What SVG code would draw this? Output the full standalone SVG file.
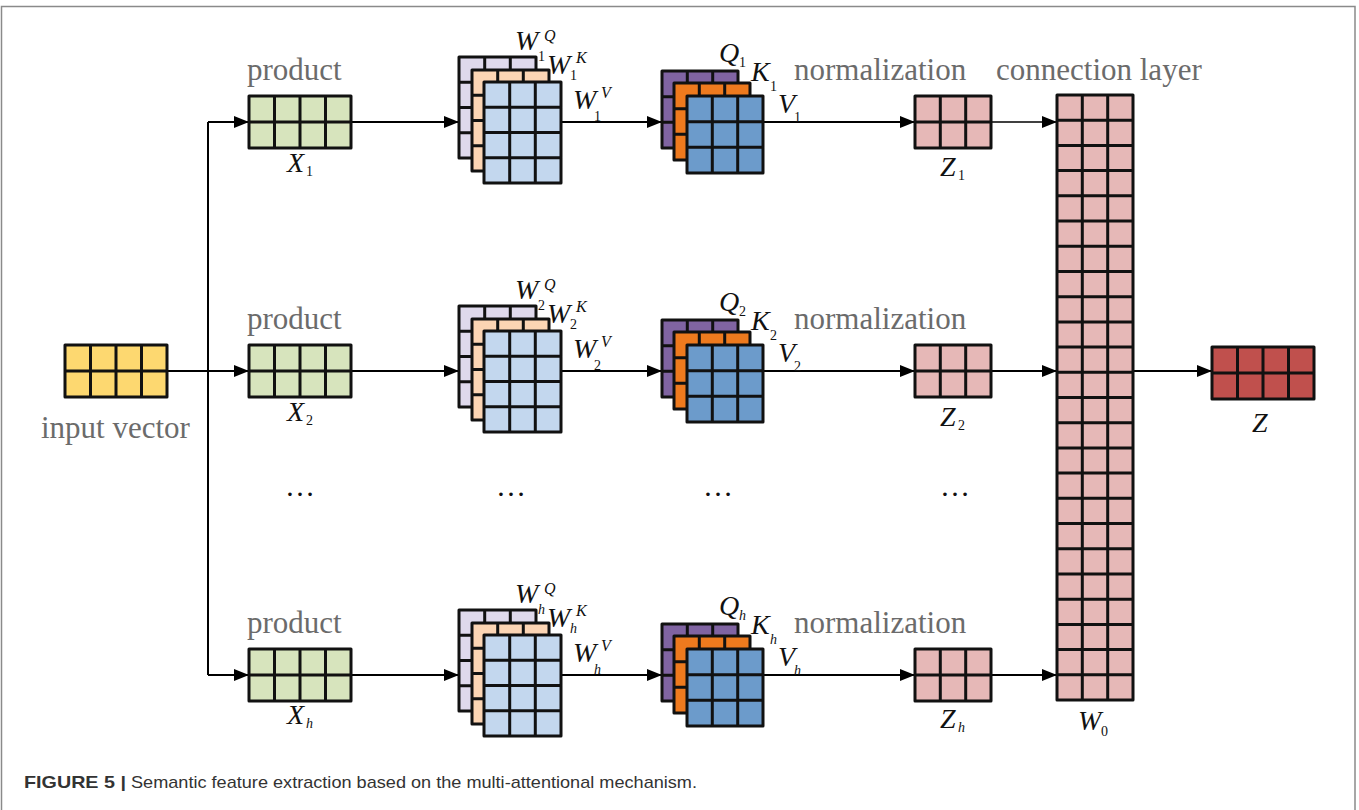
<svg xmlns="http://www.w3.org/2000/svg" xmlns:xlink="http://www.w3.org/1999/xlink" width="1359" height="810" viewBox="0 0 1359 810">
<style>
.gl{fill:none;stroke:#111;stroke-width:3;stroke-linejoin:round;stroke-linecap:round}
.lbl{font-family:"Liberation Serif","Times New Roman",serif;font-size:31px;fill:#6b6b6b}
.m{font-family:"Liberation Serif","Times New Roman",serif;font-style:italic;font-size:28px;fill:#111}
.s{font-family:"Liberation Serif","Times New Roman",serif;font-size:14px;fill:#111}
.si{font-family:"Liberation Serif","Times New Roman",serif;font-style:italic;font-size:14px;fill:#111}
.sup{font-family:"Liberation Serif","Times New Roman",serif;font-style:italic;font-size:16px;fill:#111}
.dots{font-family:"Liberation Serif","Times New Roman",serif;font-size:30px;fill:#111}
.con{fill:none;stroke:#000;stroke-width:2}
.cap{font-family:"Liberation Sans",Arial,sans-serif;font-size:17px;fill:#333}
</style>
<defs>
<marker id="arr" markerWidth="15" markerHeight="12" refX="15" refY="6" orient="auto" markerUnits="userSpaceOnUse"><path d="M0,0 L15,6 L0,12 z" fill="#000"/></marker>
<g id="g4x2"><rect x="0" y="0" width="102" height="52"/><path class="gl" d="M0,0H102V52H0Z M25.5,0V52 M51,0V52 M76.5,0V52 M0,26H102"/></g>
<g id="g3x2"><rect x="0" y="0" width="76" height="52"/><path class="gl" d="M0,0H76V52H0Z M25.3,0V52 M50.7,0V52 M0,26H76"/></g>
<g id="g3x4"><rect x="0" y="0" width="77" height="101"/><path class="gl" d="M0,0H77V101H0Z M25.7,0V101 M51.3,0V101 M0,25.25H77 M0,50.5H77 M0,75.75H77"/></g>
<g id="g3x3"><rect x="0" y="0" width="76" height="77"/><path class="gl" d="M0,0H76V77H0Z M25.3,0V77 M50.7,0V77 M0,25.7H76 M0,51.3H76"/></g>
<g id="wstack"><use xlink:href="#g3x4" x="0" y="0" fill="#DFD9EC"/><use xlink:href="#g3x4" x="13" y="13" fill="#FCD5B4"/><use xlink:href="#g3x4" x="25" y="25" fill="#C3D7EE"/></g>
<g id="qkv"><use xlink:href="#g3x3" x="0" y="0" fill="#8064A2"/><use xlink:href="#g3x3" x="12" y="12" fill="#EE7A1E"/><use xlink:href="#g3x3" x="25" y="25" fill="#6C9BCB"/></g>
</defs>
<rect width="1359" height="810" fill="#fff"/>
<path d="M1.5,810V6.5H1355V810" fill="none" stroke="#8a8a8a" stroke-width="1.5"/>

<g id="connectors">
<path class="con" d="M167,371H208 M208,122V675"/>
<path class="con" marker-end="url(#arr)" d="M208,122H249"/>
<path class="con" marker-end="url(#arr)" d="M208,371H249"/>
<path class="con" marker-end="url(#arr)" d="M208,675H249"/>
<path class="con" marker-end="url(#arr)" d="M351,122H459"/>
<path class="con" marker-end="url(#arr)" d="M351,371H459"/>
<path class="con" marker-end="url(#arr)" d="M351,675H459"/>
<path class="con" marker-end="url(#arr)" d="M561,122H662"/>
<path class="con" marker-end="url(#arr)" d="M561,371H662"/>
<path class="con" marker-end="url(#arr)" d="M561,675H662"/>
<path class="con" marker-end="url(#arr)" d="M763,122H915"/>
<path class="con" marker-end="url(#arr)" d="M763,371H915"/>
<path class="con" marker-end="url(#arr)" d="M763,675H915"/>
<path class="con" style="stroke-width:1.5" marker-end="url(#arr)" d="M991,122H1057"/>
<path class="con" marker-end="url(#arr)" d="M991,371H1057"/>
<path class="con" marker-end="url(#arr)" d="M991,675H1057"/>
<path class="con" marker-end="url(#arr)" d="M1133,371H1212"/>
</g>

<g id="input">
<use xlink:href="#g4x2" x="65" y="345" fill="#FDD870"/>
<text class="lbl" x="41" y="438">input vector</text>
</g>

<g id="product1">
<text class="lbl" x="247" y="80">product</text>
<use xlink:href="#g4x2" x="249" y="96" fill="#D7E4BD"/>
<text class="m" x="287" y="172">X</text><text class="s" x="306" y="176">1</text>
</g>
<g id="product2">
<text class="lbl" x="247" y="329">product</text>
<use xlink:href="#g4x2" x="249" y="345" fill="#D7E4BD"/>
<text class="m" x="287" y="421">X</text><text class="s" x="306" y="425">2</text>
</g>
<g id="producth">
<text class="lbl" x="247" y="633">product</text>
<use xlink:href="#g4x2" x="249" y="649" fill="#D7E4BD"/>
<text class="m" x="287" y="724">X</text><text class="si" x="306" y="728">h</text>
</g>

<g id="weights1">
<use xlink:href="#wstack" x="459" y="57"/>
<text class="m" x="515" y="50">W</text><text class="sup" x="544" y="41">Q</text><text class="s" x="538" y="61">1</text>
<text class="m" x="547" y="74">W</text><text class="sup" x="576" y="63">K</text><text class="s" x="570" y="80">1</text>
<text class="m" x="573" y="109">W</text><text class="sup" x="601" y="98">V</text><text class="s" x="594" y="121">1</text>
</g>
<g id="weights2">
<use xlink:href="#wstack" x="459" y="306"/>
<text class="m" x="515" y="299">W</text><text class="sup" x="544" y="290">Q</text><text class="s" x="538" y="310">2</text>
<text class="m" x="547" y="323">W</text><text class="sup" x="576" y="312">K</text><text class="s" x="570" y="329">2</text>
<text class="m" x="573" y="358">W</text><text class="sup" x="601" y="347">V</text><text class="s" x="594" y="370">2</text>
</g>
<g id="weightsh">
<use xlink:href="#wstack" x="459" y="610"/>
<text class="m" x="515" y="603">W</text><text class="sup" x="544" y="594">Q</text><text class="si" x="538" y="614">h</text>
<text class="m" x="547" y="627">W</text><text class="sup" x="576" y="616">K</text><text class="si" x="570" y="633">h</text>
<text class="m" x="573" y="662">W</text><text class="sup" x="601" y="651">V</text><text class="si" x="594" y="674">h</text>
</g>

<g id="qkv1">
<use xlink:href="#qkv" x="662" y="71"/>
<text class="m" x="719" y="62">Q</text><text class="s" x="739" y="67">1</text>
<text class="m" x="751" y="81">K</text><text class="s" x="770" y="91">1</text>
<text class="m" x="778" y="113">V</text><text class="s" x="794" y="122">1</text>
</g>
<g id="qkv2">
<use xlink:href="#qkv" x="662" y="320"/>
<text class="m" x="719" y="311">Q</text><text class="s" x="739" y="316">2</text>
<text class="m" x="751" y="330">K</text><text class="s" x="770" y="340">2</text>
<text class="m" x="778" y="362">V</text><text class="s" x="794" y="371">2</text>
</g>
<g id="qkvh">
<use xlink:href="#qkv" x="662" y="624"/>
<text class="m" x="719" y="615">Q</text><text class="si" x="739" y="620">h</text>
<text class="m" x="751" y="634">K</text><text class="si" x="770" y="644">h</text>
<text class="m" x="778" y="666">V</text><text class="si" x="794" y="675">h</text>
</g>

<g id="norm1">
<text class="lbl" x="794" y="80">normalization</text>
<use xlink:href="#g3x2" x="915" y="96" fill="#E6B8B7"/>
<text class="m" x="940" y="176">Z</text><text class="s" x="958" y="180">1</text>
</g>
<g id="norm2">
<text class="lbl" x="794" y="329">normalization</text>
<use xlink:href="#g3x2" x="915" y="345" fill="#E6B8B7"/>
<text class="m" x="940" y="426">Z</text><text class="s" x="958" y="430">2</text>
</g>
<g id="normh">
<text class="lbl" x="794" y="633">normalization</text>
<use xlink:href="#g3x2" x="915" y="649" fill="#E6B8B7"/>
<text class="m" x="940" y="728">Z</text><text class="si" x="958" y="732">h</text>
</g>

<g id="connection">
<text class="lbl" x="996" y="80">connection layer</text>
<rect x="1057" y="95" width="76" height="605" fill="#E6B8B7"/>
<path class="gl" d="M1057,95H1133V700H1057Z M1082.3,95V700 M1107.7,95V700 M1057,120.2H1133 M1057,145.4H1133 M1057,170.6H1133 M1057,195.8H1133 M1057,221H1133 M1057,246.3H1133 M1057,271.5H1133 M1057,296.7H1133 M1057,321.9H1133 M1057,347.1H1133 M1057,372.3H1133 M1057,397.5H1133 M1057,422.7H1133 M1057,447.9H1133 M1057,473.1H1133 M1057,498.3H1133 M1057,523.5H1133 M1057,548.8H1133 M1057,574H1133 M1057,599.2H1133 M1057,624.4H1133 M1057,649.6H1133 M1057,674.8H1133"/>
<text class="m" x="1078" y="730">W</text><text class="s" x="1101" y="736">0</text>
</g>

<g id="output">
<use xlink:href="#g4x2" x="1212" y="347" fill="#C0504D"/>
<text class="m" x="1252" y="432">Z</text>
</g>

<g id="ellipses">
<text class="dots" x="300" y="496" text-anchor="middle">…</text>
<text class="dots" x="511" y="496" text-anchor="middle">…</text>
<text class="dots" x="718" y="496" text-anchor="middle">…</text>
<text class="dots" x="955" y="496" text-anchor="middle">…</text>
</g>

<g id="caption">
<text class="cap" x="24" y="788" font-weight="bold" textLength="102" lengthAdjust="spacingAndGlyphs">FIGURE 5 |</text>
<text class="cap" x="131" y="788" textLength="566" lengthAdjust="spacingAndGlyphs">Semantic feature extraction based on the multi-attentional mechanism.</text>
</g>
</svg>
